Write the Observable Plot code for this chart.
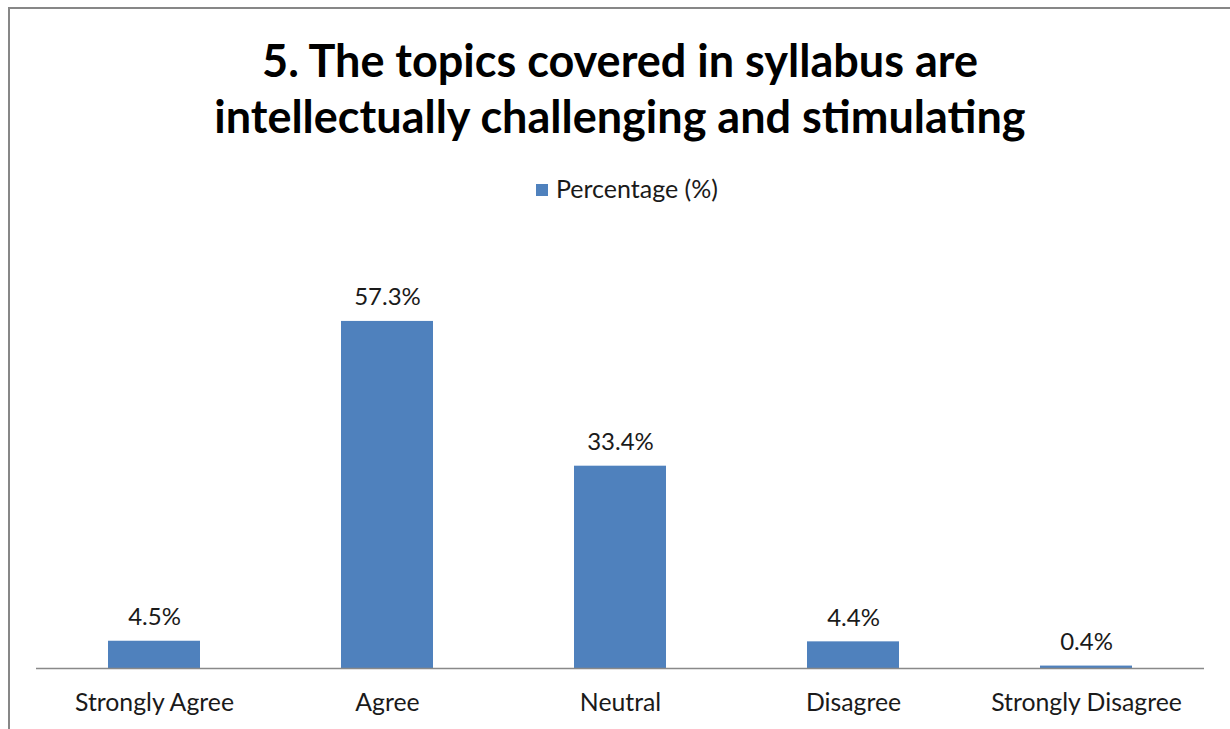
<!DOCTYPE html>
<html>
<head>
<meta charset="utf-8">
<script src="https://cdn.jsdelivr.net/npm/d3@7"></script>
<script src="https://cdn.jsdelivr.net/npm/@observablehq/plot@0.6"></script>
<style>
  html, body { margin: 0; padding: 0; background: #fff; overflow: hidden; width: 1230px; height: 729px; }
  #frame { position: absolute; left: 8px; top: 7px; width: 1260px; height: 760px; border: 2px solid #878787; box-sizing: border-box; }
  #title { position: absolute; left: 0; top: 32px; width: 1240px; text-align: center; font-family: Lato, sans-serif; font-weight: 700; font-size: 45px; line-height: 56px; color: #000; }
  #legend { position: absolute; left: 0; top: 173px; width: 1254px; text-align: center; font-family: Lato, sans-serif; font-size: 25px; color: #1a1a1a; }
  #legend .sw { display: inline-block; width: 12px; height: 12px; background: #4F81BD; margin-right: 8px; vertical-align: 2px; }
  #chart { position: absolute; left: 0; top: 220px; }
</style>
</head>
<body>
<div id="frame"></div>
<div id="title">5. The topics covered in syllabus are<br>intellectually challenging and stimulating</div>
<div id="legend"><span class="sw"></span>Percentage (%)</div>
<div id="chart"></div>
<script>
const categories = ["Strongly Agree", "Agree", "Neutral", "Disagree", "Strongly Disagree"];
const percentages = [4.5, 57.3, 33.4, 4.4, 0.4];
const labels = ["4.5%", "57.3%", "33.4%", "4.4%", "0.4%"];

const data = categories.map((c, i) => ({category: c, value: percentages[i], label: labels[i]}));

const plot = Plot.plot({
  width: 1230,
  height: 509,
  marginLeft: 36,
  marginRight: 26,
  marginTop: 24,
  marginBottom: 61,
  style: {fontFamily: "Lato, sans-serif", background: "transparent", color: "#1a1a1a"},
  x: {domain: categories, paddingInner: 0.606, paddingOuter: 0.303, label: null},
  y: {domain: [0, 70], axis: null},
  marks: [
    Plot.barY(data, {x: "category", y: "value", fill: "#4F81BD"}),
    Plot.ruleY([0], {stroke: "#898989", strokeWidth: 1.5}),
    Plot.text(data, {x: "category", y: "value", text: "label", lineAnchor: "bottom", dy: -16, fontSize: 24, fill: "#1a1a1a"}),
    Plot.axisX({tickSize: 0, tickPadding: 25, fontSize: 24.8, label: null, fill: "#1a1a1a"})
  ]
});
document.getElementById("chart").appendChild(plot);
</script>
</body>
</html>
